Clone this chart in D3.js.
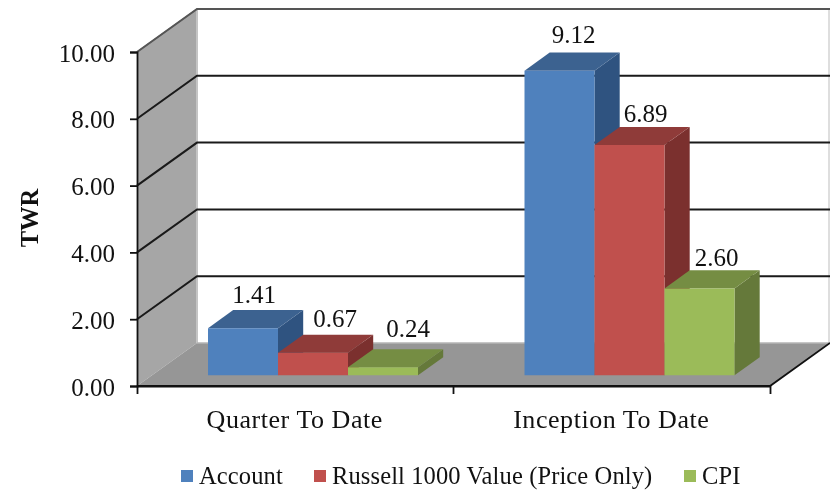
<!DOCTYPE html>
<html lang="en">
<head>
<meta charset="UTF-8">
<title>TWR</title>
<script src="https://d3js.org/d3.v7.min.js"></script>
<style>
    body { margin: 0; background: #fff; }
    svg { display: block; filter: blur(0.45px); }
    text { font-family: "Liberation Serif", serif; fill: #111; }
</style>
</head>
<body>
<script>
// values
var categories = ["Quarter To Date", "Inception To Date"];
var seriesNames = ["Account", "Russell 1000 Value (Price Only)", "CPI"];
var accountValues = [1.41, 9.12];
var russellValues = [0.67, 6.89];
var cpiValues = [0.24, 2.60];
var valueLabels = [["1.41", "9.12"], ["0.67", "6.89"], ["0.24", "2.60"]];
var tickValues = [0, 2, 4, 6, 8, 10];

var allValues = [accountValues, russellValues, cpiValues];
var frontColors = ["#4f81bd", "#c0504d", "#9bbb59"];
var topColors = ["#3c6290", "#8f3b39", "#758d43"];
var sideColors = ["#2f5380", "#7b302e", "#65793a"];

var width = 830, height = 490;
var depthX = 60, depthY = 43;   // how far the back wall is pushed
var barZ0 = 0.25, barZ1 = 0.67; // front and back of the bars on the floor

// hand nudges for the value labels, [series][category]
var labelDx = [[-14, -11], [-3, -9], [0, -8]];
var labelDy = [[0, -3], [-1, 2], [-5, 3]];

var svg = d3.select("body").append("svg")
    .attr("width", width)
    .attr("height", height);

var y = d3.scaleLinear().domain([0, 10]).range([386, 52]);
var x = d3.scaleBand().domain(categories).range([137, 770]);
var xSeries = d3.scaleBand().domain(seriesNames).range([56, 266]);

// fake 3d: z=0 is the front of the chart, z=1 the back wall
function pt(px, v, z) {
    return [px + z * depthX, y(v) - z * depthY];
}
function poly(points) {
    return points.map(function (p) { return p.join(","); }).join(" ");
}

var x0 = x.range()[0], x1 = x.range()[1];

// walls and floor
svg.append("polygon")
    .attr("points", poly([pt(x0, 0, 0), pt(x0, 10, 0), pt(x0, 10, 1), pt(x0, 0, 1)]))
    .attr("fill", "#a6a6a6");
svg.append("polygon")
    .attr("points", poly([pt(x0, 0, 0), pt(x1, 0, 0), pt(x1, 0, 1), pt(x0, 0, 1)]))
    .attr("fill", "#969696");

// back wall edges
svg.append("line")
    .attr("x1", pt(x0, 10, 1)[0]).attr("y1", pt(x0, 10, 1)[1])
    .attr("x2", pt(x0, 0, 1)[0]).attr("y2", pt(x0, 0, 1)[1])
    .attr("stroke", "#c4c4c4").attr("stroke-width", 2);
svg.append("line")
    .attr("x1", pt(x1, 10, 1)[0] - 1).attr("y1", pt(x1, 10, 1)[1])
    .attr("x2", pt(x1, 0, 1)[0] - 1).attr("y2", pt(x1, 0, 1)[1])
    .attr("stroke", "#bdbdbd").attr("stroke-width", 1);
svg.append("line")
    .attr("x1", pt(x0, 0, 1)[0]).attr("y1", pt(x0, 0, 1)[1])
    .attr("x2", pt(x1, 0, 1)[0]).attr("y2", pt(x1, 0, 1)[1])
    .attr("stroke", "#b5b5b5").attr("stroke-width", 1.5);
svg.append("line")
    .attr("x1", pt(x0, 10, 0)[0]).attr("y1", pt(x0, 10, 0)[1])
    .attr("x2", pt(x0, 10, 1)[0]).attr("y2", pt(x0, 10, 1)[1])
    .attr("stroke", "#8c8c8c").attr("stroke-width", 1.2);

// gridlines: along the side wall, then along the back wall
var grid = svg.append("g").attr("fill", "none");
tickValues.filter(function (d) { return d > 0; }).forEach(function (d) {
    grid.append("polyline")
        .attr("points", poly([pt(x0, d, 0), pt(x0, d, 1), pt(x1, d, 1)]))
        .attr("stroke", d === 10 ? "#555" : "#1a1a1a")
        .attr("stroke-width", 2);
});

// floor front edges
svg.append("polyline")
    .attr("points", poly([pt(x0, 0, 0), pt(x1, 0, 0), pt(x1, 0, 1)]))
    .attr("fill", "none")
    .attr("stroke", "#111")
    .attr("stroke-width", 1.8);

// axes
var yAxis = d3.axisLeft(y)
    .tickValues(tickValues)
    .tickFormat(d3.format(".2f"))
    .tickSize(7)
    .tickPadding(15);
var yG = svg.append("g").attr("transform", "translate(" + x0 + ",0)").call(yAxis);
yG.selectAll("text").style("font-size", "25px").attr("dy", "0.36em");
yG.selectAll("line, path").attr("stroke", "#111").attr("stroke-width", 1.8);

var xAxis = d3.axisBottom(x).tickSize(8).tickSizeOuter(8).tickFormat("");
var xG = svg.append("g").attr("transform", "translate(0," + y(0) + ")").call(xAxis);
xG.selectAll(".tick").remove();
xG.select("path").attr("stroke", "#111").attr("stroke-width", 1.8);
xG.selectAll(".mid")
    .data([x0 + x.bandwidth()])
    .enter().append("line")
    .attr("x1", function (d) { return d; })
    .attr("x2", function (d) { return d; })
    .attr("y2", 8)
    .attr("stroke", "#111")
    .attr("stroke-width", 1.8);

svg.selectAll(".cat")
    .data(categories)
    .enter().append("text")
    .attr("class", "cat")
    .attr("x", function (d) { return x(d) + x.bandwidth() / 2 - 0.5; })
    .attr("y", 428)
    .attr("text-anchor", "middle")
    .style("font-size", "26px")
    .style("letter-spacing", "0.55px")
    .text(function (d) { return d; });

// bars
seriesNames.forEach(function (name, s) {
    categories.forEach(function (cat, c) {
        var v = allValues[s][c];
        var a = x(cat) + xSeries(name);
        var b = a + xSeries.bandwidth();
        var g = svg.append("g");
        g.append("polygon")
            .attr("points", poly([pt(b, 0, barZ0), pt(b, 0, barZ1), pt(b, v, barZ1), pt(b, v, barZ0)]))
            .attr("fill", sideColors[s]);
        g.append("polygon")
            .attr("points", poly([pt(a, v, barZ0), pt(b, v, barZ0), pt(b, v, barZ1), pt(a, v, barZ1)]))
            .attr("fill", topColors[s]);
        g.append("polygon")
            .attr("points", poly([pt(a, 0, barZ0), pt(b, 0, barZ0), pt(b, v, barZ0), pt(a, v, barZ0)]))
            .attr("fill", frontColors[s]);
    });
});

// value labels sit above the back edge of each bar
seriesNames.forEach(function (name, s) {
    categories.forEach(function (cat, c) {
        var mid = x(cat) + xSeries(name) + xSeries.bandwidth() / 2;
        var p = pt(mid, allValues[s][c], barZ1);
        svg.append("text")
            .attr("x", p[0] + labelDx[s][c])
            .attr("y", p[1] - 7 + labelDy[s][c])
            .attr("text-anchor", "middle")
            .style("font-size", "25px")
            .text(valueLabels[s][c]);
    });
});

// axis title
svg.append("text")
    .attr("transform", "translate(38,218) rotate(-90)")
    .attr("text-anchor", "middle")
    .style("font-size", "24.5px")
    .style("font-weight", "bold")
    .text("TWR");

// legend
var legendX = d3.scaleOrdinal().domain(seriesNames).range([181, 314, 684]);
var legend = svg.selectAll(".legend")
    .data(seriesNames)
    .enter().append("g")
    .attr("class", "legend")
    .attr("transform", function (d) { return "translate(" + legendX(d) + ",470)"; });
legend.append("rect")
    .attr("width", 12)
    .attr("height", 12)
    .attr("fill", function (d, i) { return frontColors[i]; });
legend.append("text")
    .attr("x", 18)
    .attr("y", 14)
    .style("font-size", "24.5px")
    .style("letter-spacing", "0.12px")
    .text(function (d) { return d; });
</script>
</body>
</html>
